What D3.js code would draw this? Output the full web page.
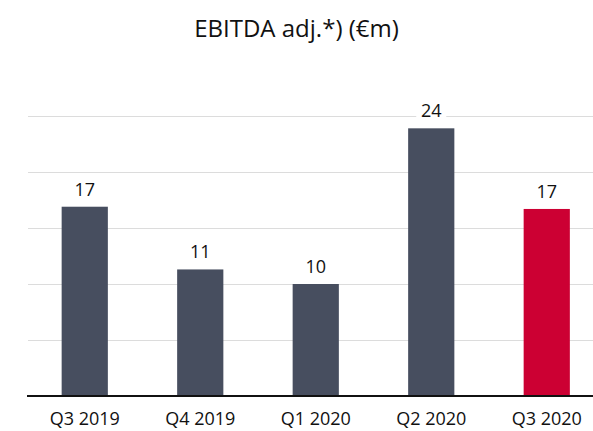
<!DOCTYPE html>
<html>
<head>
<meta charset="utf-8">
<script src="https://cdn.jsdelivr.net/npm/d3@7"></script>
<style>
html,body{margin:0;padding:0;background:#fff;}
svg{display:block;font-family:"Open Sans",sans-serif;}
</style>
</head>
<body>
<svg id="chart" width="593" height="431"></svg>
<script>
const title = "EBITDA adj.*) (€m)";
const categories = ["Q3 2019", "Q4 2019", "Q1 2020", "Q2 2020", "Q3 2020"];
const values = [16.9, 11.3, 10.0, 23.9, 16.7];
const valueLabels = ["17", "11", "10", "24", "17"];
const highlight = [false, false, false, false, true];
const yTicks = [5, 10, 15, 20, 25];

const svg = d3.select("#chart");
const W = 593, H = 431;
const x = d3.scaleBand().domain(categories).range([27, 604.5]).paddingInner(0.6).paddingOuter(0.3);
const y = d3.scaleLinear().domain([0, 25]).range([396, 116]);

svg.append("text").attr("x", W/2).attr("y", 37).attr("text-anchor", "middle")
  .attr("font-size", 24).attr("fill", "#111").text(title);

// gridlines
svg.append("g").selectAll("line").data(yTicks).join("line")
  .attr("x1", 28).attr("x2", W).attr("y1", d => Math.round(y(d)) + 0.5).attr("y2", d => Math.round(y(d)) + 0.5)
  .attr("stroke", "#dcdcdc").attr("stroke-width", 1.2);

// bars
svg.append("g").selectAll("rect").data(categories).join("rect")
  .attr("x", d => x(d)).attr("width", x.bandwidth())
  .attr("y", (d, i) => y(values[i])).attr("height", (d, i) => y(0) - y(values[i]))
  .attr("fill", (d, i) => highlight[i] ? "#cc0033" : "#474e5f");

// value labels with white background
const lg = svg.append("g").selectAll("g").data(categories).join("g");
lg.append("rect")
  .attr("x", d => x(d) + x.bandwidth()/2 - 15).attr("width", 30)
  .attr("y", (d, i) => y(values[i]) - 28).attr("height", 22).attr("fill", "#fff");
lg.append("text")
  .attr("x", d => x(d) + x.bandwidth()/2).attr("y", (d, i) => y(values[i]) - 11)
  .attr("text-anchor", "middle").attr("font-size", 18).attr("fill", "#111")
  .text((d, i) => valueLabels[i]);

// x axis
const xAxis = svg.append("g").attr("transform", "translate(0,396)")
  .call(d3.axisBottom(x).tickSize(0).tickPadding(12));
xAxis.select(".domain").remove();
xAxis.selectAll("text").attr("font-size", 18).attr("fill", "#111").attr("font-family", "Open Sans, sans-serif").attr("dy", "0.95em");
svg.append("line").attr("x1", 27).attr("x2", W).attr("y1", 396).attr("y2", 396)
  .attr("stroke", "#111").attr("stroke-width", 2);
</script>
</body>
</html>
